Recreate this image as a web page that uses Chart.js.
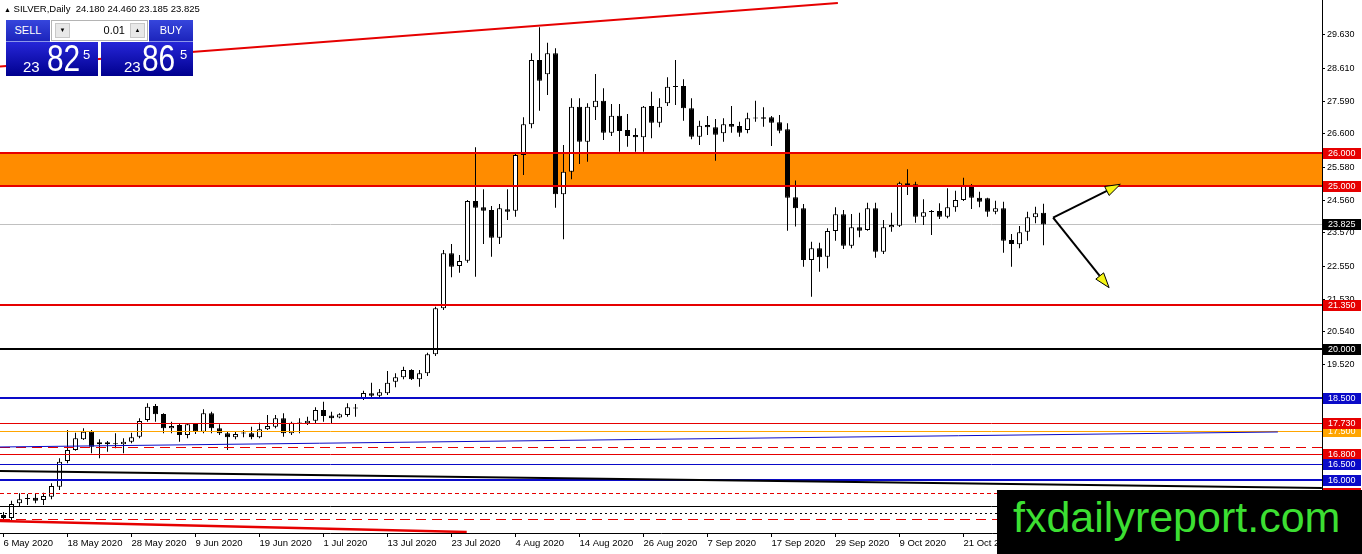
<!DOCTYPE html>
<html lang="en">
<head>
<meta charset="UTF-8">
<title>SILVER, Daily</title>
<script src="https://cdn.jsdelivr.net/npm/chart.js"></script>
<style>
  html, body { margin: 0; padding: 0; background: #fff; }
  #wrap { position: relative; width: 1362px; height: 554px; overflow: hidden; font-family: 'Liberation Sans', Arial, sans-serif; }
  #chart { position: absolute; left: 0; top: 0; }
  #title { position: absolute; left: 4px; top: 3px; font-size: 9.5px; line-height: 11px; color: #000; white-space: pre; }
  #title .tri { font-size: 7px; }
  .btn { position: absolute; top: 20px; width: 44px; height: 22px; box-sizing: border-box; background: linear-gradient(#3646dc, #1c24bc); color: #fff; font-size: 11px; line-height: 20px; text-align: center; border-bottom: 1px solid #8c96ea; }
  #sell { left: 6px; }
  #buy { left: 149px; }
  #spin { position: absolute; left: 51px; top: 20px; width: 97px; height: 21px; box-sizing: border-box; background: #fff; border: 1px solid #b4b4b4; }
  #spin .dn, #spin .up { position: absolute; top: 2px; width: 15px; height: 15px; box-sizing: border-box; background: #e8e8e8; border: 1px solid #c8c8c8; font-size: 6px; line-height: 13px; text-align: center; color: #000; }
  #spin .dn { left: 3px; }
  #spin .up { right: 2px; }
  #spin .val { position: absolute; right: 22px; top: 0; font-size: 11px; line-height: 19px; color: #000; }
  .quote { position: absolute; top: 42px; width: 92px; height: 34px; background: linear-gradient(#2626d8, #00008e); color: #fff; }
  #bid { left: 6px; }
  #ask { left: 101px; }
  .q1 { position: absolute; top: 17px; font-size: 15px; line-height: 15px; }
  .q2 { position: absolute; top: -1px; font-size: 36px; line-height: 36px; transform: scaleX(0.83); transform-origin: left top; }
  .q3 { position: absolute; top: 6px; font-size: 13px; line-height: 13px; }
  #brand { position: absolute; left: 997px; top: 490px; width: 365px; height: 64px; background: #000; color: #3cdf32; font-size: 43px; line-height: 54px; padding-left: 16px; box-sizing: border-box; white-space: nowrap; }
</style>
</head>
<body>
<div id="wrap">
  <canvas id="chart" width="1362" height="554"></canvas>
  <div id="title"></div>
  <div class="btn" id="sell">SELL</div>
  <div id="spin"><div class="dn">&#9660;</div><span class="val">0.01</span><div class="up">&#9650;</div></div>
  <div class="btn" id="buy">BUY</div>
  <div class="quote" id="bid"><span class="q1" style="left:17px">23</span><span class="q2" style="left:41px">82</span><span class="q3" style="left:77px">5</span></div>
  <div class="quote" id="ask"><span class="q1" style="left:23px">23</span><span class="q2" style="left:41px">86</span><span class="q3" style="left:79px">5</span></div>
  <div id="brand">fxdailyreport.com</div>
</div>

<script>
// daily candles, 6 May 2020 .. 4 Nov 2020
const opens = [
  14.924, 14.832, 15.282, 15.41, 15.454, 15.384, 15.485, 15.791, 16.578, 16.915,
  17.243, 17.476, 17.09, 17.151, 17.09, 17.09, 17.17, 17.323, 17.835, 18.263,
  18.018, 17.58, 17.681, 17.375, 17.712, 17.476, 18.04, 17.58, 17.427, 17.305,
  17.42, 17.427, 17.305, 17.55, 17.63, 17.887, 17.427, 17.73, 17.734, 17.813,
  18.141, 17.97, 17.907, 17.988, 18.19, 18.509, 18.652, 18.579, 18.652, 19.008,
  19.143, 19.366, 19.081, 19.265, 19.847, 21.257, 22.942, 22.553, 22.715, 24.544,
  24.351, 24.268, 23.42, 24.29, 24.247, 25.953, 26.894, 28.864, 28.426, 29.069,
  24.749, 25.442, 27.433, 26.361, 27.415, 27.617, 26.636, 27.157, 26.719, 26.566,
  26.496, 27.454, 26.943, 27.537, 28.04, 28.067, 27.384, 26.514, 26.872, 26.802,
  26.618, 26.903, 26.842, 26.719, 27.07, 27.108, 27.108, 26.955, 26.741, 24.657,
  24.32, 22.736, 23.095, 22.838, 23.625, 24.136, 23.175, 23.738, 23.655, 24.32,
  22.991, 23.738, 23.787, 25.086, 25.055, 24.063, 24.21, 24.238, 24.063, 24.351,
  24.575, 25.003, 24.645, 24.627, 24.216, 24.32, 23.349, 23.217, 23.603, 24.044,
  24.18
];
const highs = [
  15.016, 15.362, 15.589, 15.567, 15.589, 15.607, 15.895, 16.661, 17.528, 17.445,
  17.58, 17.528, 17.243, 17.191, 17.427, 17.274, 17.445, 17.887, 18.346, 18.325,
  18.04, 17.783, 17.734, 17.734, 17.734, 18.162, 18.089, 17.703, 17.476, 17.476,
  17.528, 17.63, 17.752, 17.988, 17.988, 18.04, 17.783, 17.887, 17.936, 18.224,
  18.395, 18.089, 18.04, 18.346, 18.325, 18.732, 18.977, 18.784, 19.336, 19.265,
  19.467, 19.387, 19.366, 19.896, 21.306, 23.043, 23.227, 22.89, 24.575, 26.189,
  24.902, 24.391, 24.452, 24.902, 26.015, 27.108, 29.069, 29.866, 29.394, 29.222,
  26.26, 27.69, 27.69, 27.537, 28.435, 27.997, 27.516, 27.516, 27.209, 26.771,
  27.454, 27.893, 27.69, 28.334, 28.864, 28.273, 27.69, 27.004, 27.148, 27.056,
  27.078, 27.454, 26.973, 27.249, 27.617, 27.415, 27.148, 27.179, 26.925, 25.172,
  24.452, 23.297, 23.266, 23.708, 24.351, 24.268, 24.146, 24.186, 24.492, 24.492,
  23.962, 24.186, 25.135, 25.515, 25.135, 24.596, 24.268, 24.474, 24.933, 24.86,
  25.258, 25.065, 24.829, 24.64, 24.553, 24.523, 23.533, 23.778, 24.216, 24.369,
  24.46
];
const lows = [
  14.771, 14.771, 15.178, 15.231, 15.282, 15.231, 15.405, 15.69, 16.508, 16.894,
  17.222, 16.815, 16.661, 16.863, 16.967, 16.815, 17.121, 17.274, 17.783, 17.783,
  17.427, 17.427, 17.17, 17.274, 17.405, 17.427, 17.427, 17.375, 16.915, 17.243,
  17.305, 17.243, 17.274, 17.528, 17.58, 17.323, 17.375, 17.427, 17.681, 17.734,
  17.783, 17.734, 17.887, 17.936, 17.936, 18.447, 18.509, 18.509, 18.6, 18.836,
  19.081, 19.06, 18.855, 19.183, 19.795, 21.205, 22.206, 22.347, 22.654, 22.225,
  23.227, 22.838, 23.227, 23.962, 24.063, 25.341, 26.771, 27.311, 27.791, 24.339,
  23.371, 25.209, 25.678, 25.748, 27.026, 26.413, 26.535, 26.054, 26.208, 26.054,
  26.054, 26.465, 26.802, 27.454, 27.485, 27.004, 26.434, 26.26, 26.566, 25.779,
  26.361, 26.636, 26.514, 26.618, 26.973, 26.82, 26.229, 26.618, 23.634, 23.763,
  22.531, 21.612, 22.378, 22.482, 23.328, 23.073, 23.095, 23.432, 23.634, 22.807,
  22.92, 23.603, 23.748, 24.728, 23.879, 23.809, 23.502, 23.992, 24.014, 24.216,
  24.544, 24.299, 24.351, 24.063, 24.136, 22.96, 22.531, 23.095, 23.328, 23.861,
  23.185
];
const closes = [
  14.832, 15.261, 15.405, 15.42, 15.362, 15.506, 15.812, 16.557, 16.915, 17.274,
  17.476, 17.017, 17.151, 17.09, 17.10, 17.17, 17.305, 17.804, 18.242, 18.009,
  17.58, 17.651, 17.375, 17.703, 17.476, 18.04, 17.58, 17.427, 17.305, 17.405,
  17.43, 17.305, 17.55, 17.651, 17.887, 17.427, 17.752, 17.74, 17.813, 18.141,
  17.957, 17.887, 18.009, 18.224, 18.20, 18.662, 18.579, 18.683, 18.977, 19.143,
  19.366, 19.081, 19.265, 19.847, 21.257, 22.942, 22.531, 22.706, 24.544, 24.339,
  24.247, 23.42, 24.32, 24.216, 25.953, 26.894, 28.864, 28.23, 29.069, 24.749,
  25.442, 27.433, 26.361, 27.433, 27.617, 26.636, 27.157, 26.689, 26.535, 26.496,
  27.433, 26.943, 27.433, 28.046, 28.05, 27.384, 26.514, 26.851, 26.802, 26.575,
  26.894, 26.82, 26.636, 27.078, 27.08, 27.065, 26.943, 26.698, 24.645, 24.32,
  22.736, 23.095, 22.819, 23.625, 24.136, 23.175, 23.738, 23.634, 24.32, 22.991,
  23.738, 23.809, 25.086, 25.034, 24.063, 24.198, 24.22, 24.063, 24.351, 24.575,
  25.003, 24.645, 24.523, 24.216, 24.32, 23.328, 23.227, 23.585, 24.044, 24.167,
  23.825
];

// time axis labels, one every 8 bars
const dateLabels = ['6 May 2020', '18 May 2020', '28 May 2020', '9 Jun 2020', '19 Jun 2020', '1 Jul 2020',
  '13 Jul 2020', '23 Jul 2020', '4 Aug 2020', '14 Aug 2020', '26 Aug 2020', '7 Sep 2020',
  '17 Sep 2020', '29 Sep 2020', '9 Oct 2020', '21 Oct 2020'];
const dateStep = 8;

// price axis
const priceTicks = [29.63, 28.61, 27.59, 26.6, 25.58, 24.56, 23.57, 22.55, 21.53, 20.54, 19.52, 18.5, 17.49, 16.47, 15.45];
const priceMin = 14.372;
const priceMax = 30.702;

// drawn objects (bar index, price)
const zone = [25, 26];
const levels = [26, 25, 21.35, 20, 18.5, 17.73, 17.5, 17, 16.8, 16.5, 16, 15.6, 15.2, 15, 14.8];
const tagValues = [26, 25, 23.825, 21.35, 20, 18.5, 17.5, 17.73, 16.8, 16.5, 16, 15.6];
const trendLines = [
  [-0.4375, 28.665, 104.3, 30.613],
  [-0.4375, 17.007, 159.3, 17.467],
  [-0.4375, 16.272, 164.8, 15.751],
  [-0.4375, 14.74, 57.9, 14.403]
];
const arrowFrom = [131.2, 24.032];
const arrowTo = [[139.6, 25.056], [138.2, 21.888]];

// ---- styles ----
const RED = '#e60000', BLUE = '#0a0ac8', ORANGE = '#ffa500';
const levelStyles = [
  { c: RED, w: 2 }, { c: RED, w: 2 }, { c: RED, w: 2 }, { c: '#000', w: 2 }, { c: BLUE, w: 2 },
  { c: RED, w: 1 }, { c: ORANGE, w: 1 }, { c: RED, w: 1, d: [10, 6] }, { c: RED, w: 1 }, { c: BLUE, w: 1 },
  { c: BLUE, w: 2 }, { c: RED, w: 1, d: [4, 3] }, { c: '#000', w: 1 }, { c: '#000', w: 1, d: [2, 3] },
  { c: RED, w: 1, d: [10, 6] }
];
const tagColors = [RED, RED, '#000', RED, '#000', BLUE, ORANGE, RED, RED, BLUE, BLUE, RED];
const trendStyles = [{ c: RED, w: 2 }, { c: BLUE, w: 1 }, { c: '#000', w: 2 }, { c: RED, w: 2.5 }];

const last = closes.length - 1;
document.getElementById('title').innerHTML = '<span class="tri">&#9650;</span> SILVER,Daily  ' +
  [opens[last], highs[last], lows[last], closes[last]].map(v => v.toFixed(3)).join(' ');

const bodies = opens.map((o, i) => ({ x: i, y: [o, closes[i]] }));
const wicks = lows.map((l, i) => ({ x: i, y: [l, highs[i]] }));
const bodyColors = opens.map((o, i) => closes[i] >= o ? '#ffffff' : '#000000');

function hLine(ctx, area, y, st) {
  const yy = st.w % 2 ? Math.round(y) + 0.5 : Math.round(y);
  ctx.beginPath();
  ctx.setLineDash(st.d || []);
  ctx.strokeStyle = st.c;
  ctx.lineWidth = st.w;
  ctx.moveTo(area.left, yy);
  ctx.lineTo(area.right, yy);
  ctx.stroke();
}

const objects = {
  id: 'objects',
  beforeDatasetsDraw(chart) {
    const { ctx, chartArea: a, scales: { y } } = chart;
    ctx.save();
    ctx.fillStyle = '#ff8c00';
    const top = y.getPixelForValue(zone[1]), bot = y.getPixelForValue(zone[0]);
    ctx.fillRect(a.left, top, a.right - a.left, bot - top);
    hLine(ctx, a, y.getPixelForValue(closes[last]), { c: '#c0c0c0', w: 1 });
    ctx.restore();
  },
  afterDatasetsDraw(chart) {
    const { ctx, chartArea: a, scales: { x, y } } = chart;
    ctx.save();
    ctx.beginPath();
    ctx.rect(a.left, a.top, a.right - a.left, a.bottom - a.top);
    ctx.clip();
    levels.forEach((v, k) => hLine(ctx, a, y.getPixelForValue(v), levelStyles[k]));
    ctx.setLineDash([]);
    trendLines.forEach((t, k) => {
      ctx.beginPath();
      ctx.strokeStyle = trendStyles[k].c;
      ctx.lineWidth = trendStyles[k].w;
      ctx.moveTo(x.getPixelForValue(t[0]), y.getPixelForValue(t[1]));
      ctx.lineTo(x.getPixelForValue(t[2]), y.getPixelForValue(t[3]));
      ctx.stroke();
    });
    // arrows
    const x0 = x.getPixelForValue(arrowFrom[0]), y0 = y.getPixelForValue(arrowFrom[1]);
    arrowTo.forEach(p => {
      const x1 = x.getPixelForValue(p[0]), y1 = y.getPixelForValue(p[1]);
      const ang = Math.atan2(y1 - y0, x1 - x0);
      const len = 15, hw = 5;
      const bx = x1 - len * Math.cos(ang), by = y1 - len * Math.sin(ang);
      ctx.beginPath();
      ctx.strokeStyle = '#000';
      ctx.lineWidth = 2;
      ctx.moveTo(x0, y0);
      ctx.lineTo(bx, by);
      ctx.stroke();
      ctx.beginPath();
      ctx.moveTo(x1, y1);
      ctx.lineTo(bx + hw * Math.sin(ang), by - hw * Math.cos(ang));
      ctx.lineTo(bx - hw * Math.sin(ang), by + hw * Math.cos(ang));
      ctx.closePath();
      ctx.fillStyle = '#f5f516';
      ctx.fill();
      ctx.lineWidth = 1;
      ctx.stroke();
    });
    ctx.restore();
  },
  afterDraw(chart) {
    const { ctx, chartArea: a, scales: { y } } = chart;
    ctx.save();
    ctx.font = '9px "Liberation Sans", Arial, sans-serif';
    ctx.textBaseline = 'middle';
    tagValues.forEach((v, k) => {
      const py = Math.round(y.getPixelForValue(v));
      ctx.fillStyle = tagColors[k];
      ctx.fillRect(a.right + 1, py - 5, 38, 11);
      ctx.fillStyle = '#fff';
      ctx.fillText(v.toFixed(3), a.right + 6, py + 0.5);
    });
    ctx.restore();
  }
};

const axisFont = { family: 'Liberation Sans', size: 9.5 };

new Chart(document.getElementById('chart'), {
  type: 'bar',
  data: {
    datasets: [
      {
        data: wicks,
        backgroundColor: '#000',
        borderWidth: 0,
        barThickness: 1,
        grouped: false,
        inflateAmount: 0,
        order: 2
      },
      {
        data: bodies,
        backgroundColor: bodyColors,
        borderColor: '#000',
        borderWidth: 1,
        borderSkipped: false,
        barThickness: 5,
        minBarLength: 1,
        grouped: false,
        inflateAmount: 0,
        order: 1
      }
    ]
  },
  options: {
    responsive: false,
    animation: false,
    devicePixelRatio: 1,
    layout: { padding: 0 },
    plugins: { legend: { display: false }, tooltip: { enabled: false } },
    scales: {
      x: {
        type: 'linear',
        min: -0.4375,
        max: 164.8125,
        offset: false,
        grid: { offset: false, drawOnChartArea: false, drawTicks: true, tickLength: 4, color: '#000' },
        border: { display: true, color: '#000' },
        ticks: {
          align: 'start', padding: 1, maxRotation: 0, autoSkip: false, color: '#000', font: axisFont,
          callback: (v, i) => dateLabels[i]
        },
        afterBuildTicks: s => { s.ticks = dateLabels.map((_, k) => ({ value: k * dateStep })); },
        afterFit: s => { s.height = 21; s.paddingLeft = s.paddingRight = s.paddingTop = s.paddingBottom = 0; }
      },
      y: {
        type: 'linear',
        position: 'right',
        min: priceMin,
        max: priceMax,
        grid: { drawOnChartArea: false, drawTicks: true, tickLength: 3, color: '#000' },
        border: { display: true, color: '#000' },
        ticks: {
          padding: 2, autoSkip: false, color: '#000', font: { family: 'Liberation Sans', size: 9 },
          callback: v => Number(v).toFixed(3)
        },
        afterBuildTicks: s => { s.ticks = priceTicks.map(v => ({ value: v })); },
        afterFit: s => { s.width = 40; s.paddingLeft = s.paddingRight = s.paddingTop = s.paddingBottom = 0; }
      }
    }
  },
  plugins: [objects]
});
</script>
</body>
</html>
